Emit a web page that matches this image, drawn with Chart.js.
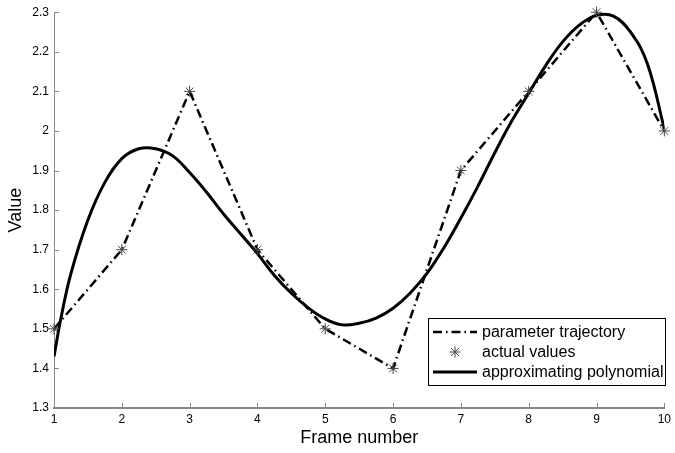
<!DOCTYPE html>
<html><head><meta charset="utf-8">
<script src="https://cdn.jsdelivr.net/npm/chart.js@4.4.0/dist/chart.umd.min.js"></script>
<style>html,body{margin:0;padding:0;background:#fff}</style>
</head><body>
<canvas id="c" width="675" height="453"></canvas>
<script>
const frames = [1,2,3,4,5,6,7,8,9,10];
const actualValues = [1.5,1.7,2.1,1.7,1.5,1.4,1.9,2.1,2.3,2.0];
const polyX = [1,1.1,1.25,1.5,1.75,2,2.25,2.5,2.75,3,3.25,3.5,3.75,4,4.25,4.5,4.75,5,5.25,5.5,5.75,6,6.25,6.5,6.75,7,7.25,7.5,7.75,8,8.25,8.5,8.75,9,9.25,9.5,9.75,10];
const polyY = [1.43,1.525,1.64,1.775,1.87,1.93,1.955,1.955,1.937,1.895,1.845,1.79,1.74,1.69,1.635,1.59,1.553,1.525,1.51,1.514,1.527,1.552,1.59,1.64,1.705,1.78,1.86,1.945,2.025,2.095,2.165,2.225,2.268,2.292,2.29,2.25,2.17,2.005];
const xTickValues = [1,2,3,4,5,6,7,8,9,10];
const xTickLabels = ['1','2','3','4','5','6','7','8','9','10'];
const yTickValues = [1.3,1.4,1.5,1.6,1.7,1.8,1.9,2.0,2.1,2.2,2.3];
const yTickLabels = ['1.3','1.4','1.5','1.6','1.7','1.8','1.9','2','2.1','2.2','2.3'];
const seriesLabels = ['parameter trajectory','actual values','approximating polynomial'];

const FONT = 'Liberation Sans, Arial, Helvetica, sans-serif';
const DASHDOT = [9,4,1.5,4];

const inwardTicks = {
  id: 'inwardTicks',
  beforeDatasetsDraw(chart) {
    const {ctx, chartArea: a, scales: {x, y}} = chart;
    ctx.save();
    ctx.strokeStyle = '#8a8a8a';
    ctx.lineWidth = 1;
    ctx.beginPath();
    x.ticks.forEach(t => {
      const px = Math.round(x.getPixelForValue(t.value)) + 0.5;
      ctx.moveTo(px, a.bottom);
      ctx.lineTo(px, a.bottom - 5);
    });
    y.ticks.forEach(t => {
      const py = Math.round(y.getPixelForValue(t.value)) + 0.5;
      ctx.moveTo(a.left, py);
      ctx.lineTo(a.left + 5, py);
    });
    ctx.stroke();
    ctx.restore();
  }
};

function drawStar(ctx, cx, cy, r) {
  ctx.beginPath();
  ctx.moveTo(cx - r, cy); ctx.lineTo(cx + r, cy);
  ctx.moveTo(cx, cy - r); ctx.lineTo(cx, cy + r);
  const d = r * Math.SQRT1_2;
  ctx.moveTo(cx - d, cy - d); ctx.lineTo(cx + d, cy + d);
  ctx.moveTo(cx - d, cy + d); ctx.lineTo(cx + d, cy - d);
  ctx.stroke();
}

const boxLegend = {
  id: 'boxLegend',
  afterDraw(chart) {
    const ctx = chart.ctx;
    const L = 428.5, T = 318.5, W = 237, H = 67;
    ctx.save();
    ctx.fillStyle = '#fff';
    ctx.fillRect(L, T, W, H);
    ctx.strokeStyle = '#000';
    ctx.lineWidth = 1;
    ctx.strokeRect(L, T, W, H);
    const ds = chart.data.datasets;
    const rows = [332, 352, 372];
    ctx.strokeStyle = '#000';
    ctx.lineWidth = 2.5;
    ctx.setLineDash(DASHDOT);
    ctx.beginPath(); ctx.moveTo(433, rows[0]); ctx.lineTo(477, rows[0]); ctx.stroke();
    ctx.setLineDash([]);
    ctx.strokeStyle = '#444';
    ctx.lineWidth = 1;
    drawStar(ctx, 455, rows[1], 5.5);
    ctx.strokeStyle = '#000';
    ctx.lineWidth = 3;
    ctx.beginPath(); ctx.moveTo(433, rows[2]); ctx.lineTo(477, rows[2]); ctx.stroke();
    ctx.fillStyle = '#000';
    ctx.font = '16px ' + FONT;
    ctx.textBaseline = 'middle';
    ctx.textAlign = 'left';
    ds.forEach((d, i) => ctx.fillText(d.label, 482, rows[i] + 1));
    ctx.restore();
  }
};

new Chart(document.getElementById('c'), {
  type: 'line',
  data: {
    datasets: [
      {
        label: seriesLabels[0],
        data: frames.map((f, i) => ({x: f, y: actualValues[i]})),
        borderColor: '#000', borderWidth: 2.5, borderDash: DASHDOT,
        pointRadius: 0, tension: 0, fill: false, order: 2
      },
      {
        label: seriesLabels[1],
        data: frames.map((f, i) => ({x: f, y: actualValues[i]})),
        showLine: false, pointStyle: 'star', pointRadius: 5.5,
        pointBorderColor: '#444', pointBorderWidth: 1, pointBackgroundColor: 'transparent',
        borderColor: '#444', clip: false, order: 0
      },
      {
        label: seriesLabels[2],
        data: polyX.map((v, i) => ({x: v, y: polyY[i]})),
        borderColor: '#000', borderWidth: 3, pointRadius: 0,
        tension: 0.4, fill: false, order: 1
      }
    ]
  },
  options: {
    responsive: false,
    animation: false,
    layout: {padding: {top: 10, right: 6, left: 0, bottom: 0}},
    plugins: {legend: {display: false}, tooltip: {enabled: false}},
    scales: {
      x: {
        type: 'linear', min: 1, max: 10,
        afterBuildTicks: s => { s.ticks = xTickValues.map(v => ({value: v})); },
        afterFit: s => { s.height = 45; },
        grid: {display: false, drawTicks: false},
        border: {display: true, color: '#8a8a8a', width: 2},
        ticks: {
          color: '#000', padding: 4, maxRotation: 0, autoSkip: false,
          font: {family: FONT, size: 12},
          callback: (v, i) => xTickLabels[i]
        },
        title: {display: true, text: 'Frame number', color: '#000',
          font: {family: FONT, size: 18}, padding: {top: 0, bottom: 4}}
      },
      y: {
        type: 'linear', min: 1.3, max: 2.3,
        afterBuildTicks: s => { s.ticks = yTickValues.map(v => ({value: v})); },
        afterFit: s => { s.width = 54; },
        grid: {display: false, drawTicks: false},
        border: {display: true, color: '#8a8a8a', width: 1},
        ticks: {
          color: '#000', padding: 5, autoSkip: false,
          font: {family: FONT, size: 12},
          callback: (v, i) => yTickLabels[i]
        },
        title: {display: true, text: 'Value', color: '#000',
          font: {family: FONT, size: 18}, padding: {top: 5, bottom: 0}}
      }
    }
  },
  plugins: [inwardTicks, boxLegend]
});
</script>
</body></html>
